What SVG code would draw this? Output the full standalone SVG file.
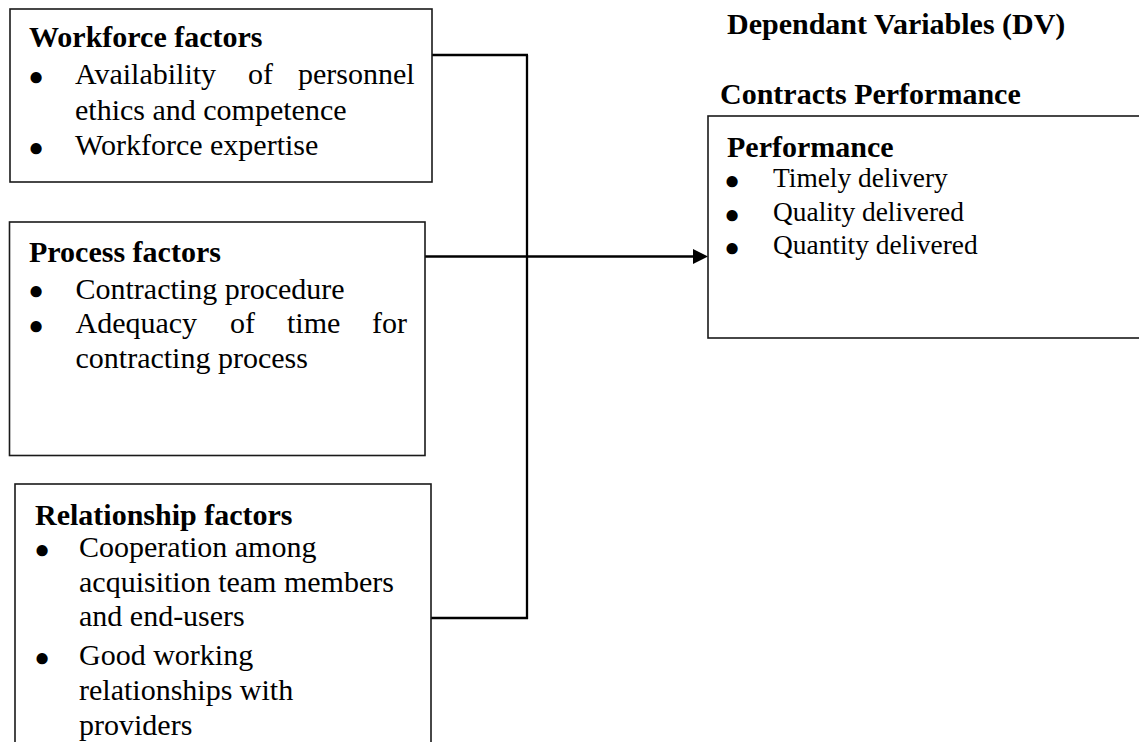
<svg xmlns="http://www.w3.org/2000/svg" width="1139" height="742" viewBox="0 0 1139 742">
<style>
.box{fill:#fff;stroke:#1a1a1a;stroke-width:1.6}
.conn{stroke:#000;stroke-width:2.3;fill:none}
.t{font-family:"Liberation Serif","Times New Roman",serif;font-size:30px;fill:#000}
.b{font-weight:bold}
.s{font-size:27.4px}
.bul{font-family:"Liberation Serif","Times New Roman",serif;text-anchor:middle;font-size:26px;fill:#000}
</style>
<rect width="1139" height="742" fill="#fff"/>
<g id="connectors">
<line class="conn" x1="432" y1="55" x2="528" y2="55"/>
<line class="conn" x1="527" y1="55" x2="527" y2="619"/>
<line class="conn" x1="431" y1="618" x2="528" y2="618"/>
<line class="conn" x1="425" y1="256.5" x2="695" y2="256.5"/>
<polygon points="693,249 708,256.5 693,264" fill="#000"/>
</g>
<g id="workforce">
<rect class="box" x="10" y="9" width="422" height="173"/>
<text class="t b" x="29" y="47">Workforce factors</text>
<text class="bul" x="36" y="84.5">●</text>
<text class="t" y="84"><tspan x="75">Availability</tspan><tspan x="248">of</tspan><tspan x="298">personnel</tspan></text>
<text class="t" x="75" y="119.5">ethics and competence</text>
<text class="bul" x="36" y="155.5">●</text>
<text class="t" x="75" y="155">Workforce expertise</text>
</g>
<g id="process">
<rect class="box" x="9.5" y="222" width="415.5" height="233.5"/>
<text class="t b" x="29" y="262">Process factors</text>
<text class="bul" x="36" y="299">●</text>
<text class="t" x="75.5" y="298.5">Contracting procedure</text>
<text class="bul" x="36" y="333.5">●</text>
<text class="t" y="333"><tspan x="75.5">Adequacy</tspan><tspan x="230">of</tspan><tspan x="287">time</tspan><tspan x="372">for</tspan></text>
<text class="t" x="75.5" y="368">contracting process</text>
</g>
<g id="relationship">
<rect class="box" x="15" y="484" width="416" height="280"/>
<text class="t b" x="35" y="525">Relationship factors</text>
<text class="bul" x="42" y="557.5">●</text>
<text class="t" x="79" y="557">Cooperation among</text>
<text class="t" x="79" y="592">acquisition team members</text>
<text class="t" x="79" y="626">and end-users</text>
<text class="bul" x="42" y="665.5">●</text>
<text class="t" x="79" y="665">Good working</text>
<text class="t" x="79" y="700">relationships with</text>
<text class="t" x="79" y="735">providers</text>
</g>
<g id="headers">
<text class="t b" x="727" y="33.5">Dependant Variables (DV)</text>
<text class="t b" x="720" y="103.5">Contracts Performance</text>
</g>
<g id="performance">
<rect class="box" x="708" y="116" width="460" height="222"/>
<text class="t b" x="727" y="156.5">Performance</text>
<text class="bul" x="732" y="189">●</text>
<text class="t s" x="773" y="187">Timely delivery</text>
<text class="bul" x="732" y="222.5">●</text>
<text class="t s" x="773" y="220.5">Quality delivered</text>
<text class="bul" x="732" y="256">●</text>
<text class="t s" x="773" y="254">Quantity delivered</text>
</g>
</svg>
